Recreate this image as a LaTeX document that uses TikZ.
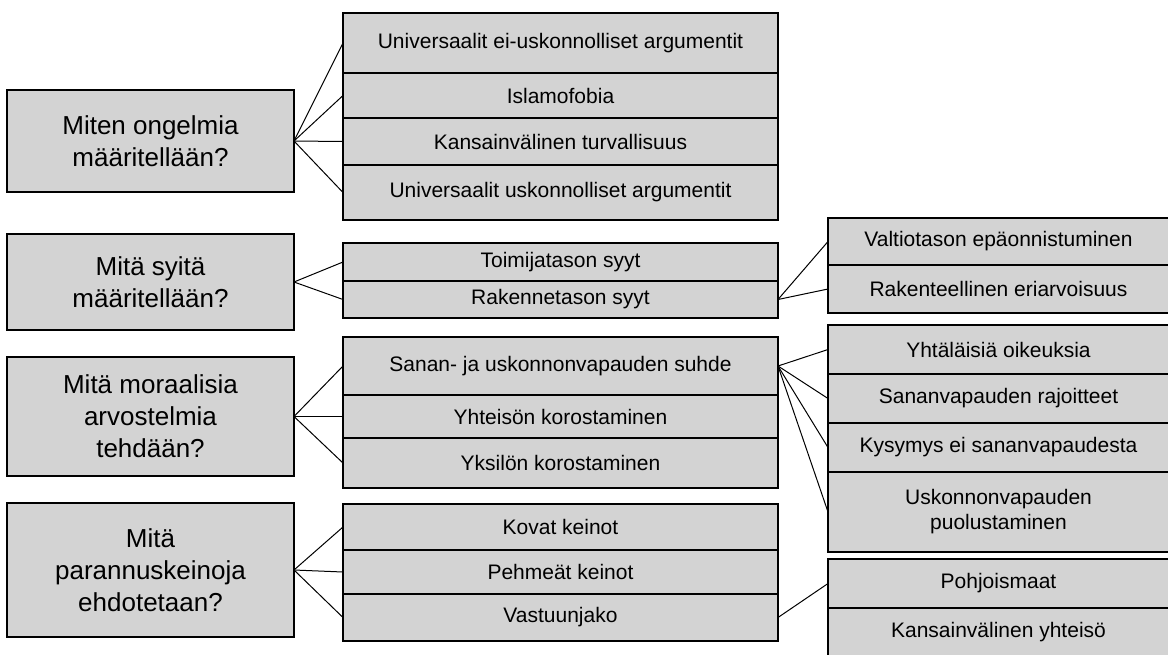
\documentclass[tikz,border=0pt]{standalone}
\usepackage{fontspec}
\setmainfont{Liberation Sans}
\usetikzlibrary{positioning}
\definecolor{boxgray}{RGB}{211,211,211}
\begin{document}
\begin{tikzpicture}[
        x=1pt, y=-1pt,
        every node/.style={rectangle, draw, fill=boxgray, line width=2.5pt, outer sep=0pt, inner sep=2pt, align=center},
        question/.style={minimum width=287pt, font=\fontsize{26}{32}\selectfont},
        midrow/.style={minimum width=435pt, font=\fontsize{21}{25}\selectfont},
        siderow/.style={minimum width=341pt, font=\fontsize{21}{25}\selectfont},
        link/.style={draw, line width=1pt}
    ]
    \useasboundingbox (0,0) rectangle (1168,654);

    % questions
    \node[question, minimum height=102pt] (q1) at (150.5,141) {Miten ongelmia\\määritellään?};
    \node[question, minimum height=96pt] (q2) at (150.5,282) {Mitä syitä\\määritellään?};
    \node[question, minimum height=119pt] (q3) at (150.5,416.5) {Mitä moraalisia\\arvostelmia\\tehdään?};
    \node[question, minimum height=134pt] (q4) at (150.5,570) {Mitä\\parannuskeinoja\\ehdotetaan?};

    % middle column
    \node[midrow, minimum height=60pt, anchor=north] (a1) at (560.5,13) {Universaalit ei-uskonnolliset argumentit};
    \node[midrow, minimum height=45pt, below=0pt of a1] (a2) {Islamofobia};
    \node[midrow, minimum height=47pt, below=0pt of a2] (a3) {Kansainvälinen turvallisuus};
    \node[midrow, minimum height=55pt, below=0pt of a3] (a4) {Universaalit uskonnolliset argumentit};

    \node[midrow, minimum height=38pt, anchor=north] (b1) at (560.5,243) {Toimijatason syyt};
    \node[midrow, minimum height=37pt, below=0pt of b1] (b2) {Rakennetason syyt};

    \node[midrow, minimum height=58pt, anchor=north] (c1) at (560.5,337) {Sanan- ja uskonnonvapauden suhde};
    \node[midrow, minimum height=43pt, below=0pt of c1] (c2) {Yhteisön korostaminen};
    \node[midrow, minimum height=50pt, below=0pt of c2] (c3) {Yksilön korostaminen};

    \node[midrow, minimum height=46pt, anchor=north] (d1) at (560.5,504) {Kovat keinot};
    \node[midrow, minimum height=44pt, below=0pt of d1] (d2) {Pehmeät keinot};
    \node[midrow, minimum height=47pt, below=0pt of d2] (d3) {Vastuunjako};

    % right column
    \node[siderow, minimum height=47pt, anchor=north] (e1) at (998.5,218) {Valtiotason epäonnistuminen};
    \node[siderow, minimum height=48pt, below=0pt of e1] (e2) {Rakenteellinen eriarvoisuus};

    \node[siderow, minimum height=49pt, anchor=north] (f1) at (998.5,325) {Yhtäläisiä oikeuksia};
    \node[siderow, minimum height=49pt, below=0pt of f1] (f2) {Sananvapauden rajoitteet};
    \node[siderow, minimum height=49pt, below=0pt of f2] (f3) {Kysymys ei sananvapaudesta};
    \node[siderow, minimum height=80pt, below=0pt of f3] (f4) {Uskonnonvapauden\\puolustaminen};

    \node[siderow, minimum height=49pt, anchor=north] (g1) at (998.5,559) {Pohjoismaat};
    \node[siderow, minimum height=49pt, below=0pt of g1] (g2) {Kansainvälinen yhteisö};

    % connectors
    \foreach \r in {a1,a2,a3,a4} \draw[link] (q1.east) -- (\r.west);
    \foreach \r in {b1,b2} \draw[link] (q2.east) -- (\r.west);
    \foreach \r in {c1,c2,c3} \draw[link] (q3.east) -- (\r.west);
    \foreach \r in {d1,d2,d3} \draw[link] (q4.east) -- (\r.west);
    \foreach \r in {e1,e2} \draw[link] (b2.east) -- (\r.west);
    \foreach \r in {f1,f2,f3,f4} \draw[link] (c1.east) -- (\r.west);
    \draw[link] (d3.east) -- (g1.west);
\end{tikzpicture}
\end{document}
